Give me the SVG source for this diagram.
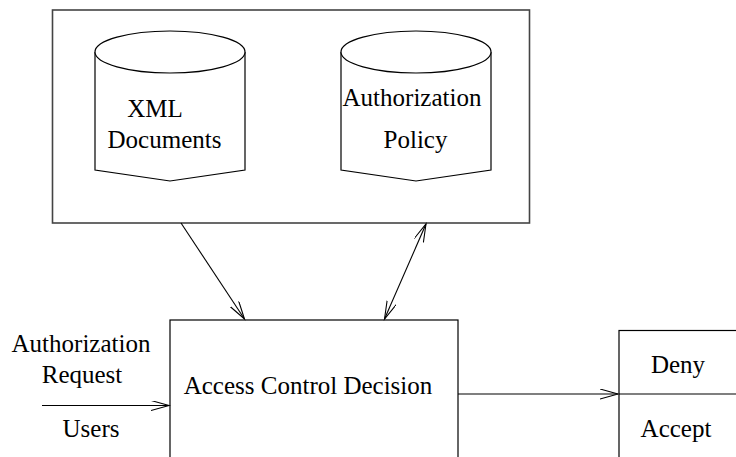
<svg xmlns="http://www.w3.org/2000/svg" width="736" height="457" viewBox="0 0 736 457">
  <style>
    .box { fill: none; stroke: #000; stroke-width: 1.2; }
    .frame { fill: none; stroke: #444; stroke-width: 1.6; }
    .db { fill: #fff; stroke: #000; stroke-width: 1.2; }
    .lbl { font-family: "Liberation Serif", "Times New Roman", serif; font-size: 25px; fill: #000; text-anchor: middle; }
    .edge { fill: none; stroke: #000; stroke-width: 1.1; }
  </style>
  <defs>
    <marker id="open" markerUnits="userSpaceOnUse" markerWidth="20" markerHeight="12" refX="18" refY="5" orient="auto-start-reverse">
      <path d="M0,0 L18,5 L0,10" fill="none" stroke="#000" stroke-width="1.1"/>
    </marker>
  </defs>
  <rect width="736" height="457" fill="#fff"/>

  <!-- repository frame holding the two data stores -->
  <g id="repository">
    <rect class="frame" x="52.5" y="10" width="477" height="213"/>
  </g>

  <g id="xml-documents">
    <path class="db" d="M95,52 V170 L170,181 L245,170 V52"/>
    <ellipse class="db" cx="170" cy="52" rx="75" ry="21"/>
    <text class="lbl" x="155" y="117">XML</text>
    <text class="lbl" x="164.5" y="148">Documents</text>
  </g>

  <g id="authorization-policy">
    <path class="db" d="M341,52 V170 L416,181 L491,170 V52"/>
    <ellipse class="db" cx="416" cy="52" rx="75" ry="21"/>
    <text class="lbl" x="412" y="106">Authorization</text>
    <text class="lbl" x="415.5" y="148">Policy</text>
  </g>

  <g id="access-control-decision">
    <rect class="box" x="170" y="320" width="288" height="150"/>
    <text class="lbl" x="308" y="394">Access Control Decision</text>
  </g>

  <g id="result">
    <rect class="box" x="619" y="330.5" width="130" height="140"/>
    <line class="box" x1="619" y1="394" x2="749" y2="394"/>
    <text class="lbl" x="678" y="373">Deny</text>
    <text class="lbl" x="676" y="437">Accept</text>
  </g>

  <g id="request">
    <text class="lbl" x="81" y="352">Authorization</text>
    <text class="lbl" x="82" y="383">Request</text>
    <text class="lbl" x="91" y="437">Users</text>
  </g>

  <g id="connectors">
    <line class="edge" x1="181" y1="223" x2="244.5" y2="319" marker-end="url(#open)"/>
    <line class="edge" x1="426" y1="224" x2="384.5" y2="319" marker-start="url(#open)" marker-end="url(#open)"/>
    <line class="edge" x1="42" y1="405.5" x2="169" y2="405.5" marker-end="url(#open)"/>
    <line class="edge" x1="458" y1="394" x2="618" y2="394" marker-end="url(#open)"/>
  </g>
</svg>
